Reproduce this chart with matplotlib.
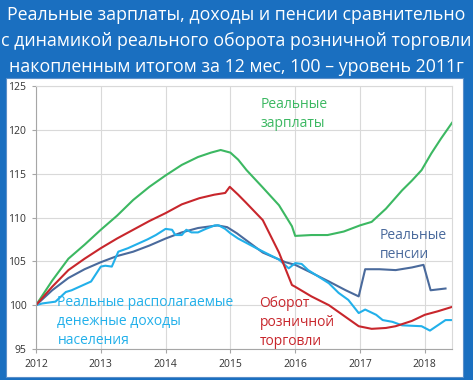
import matplotlib
matplotlib.use("Agg")
import matplotlib.pyplot as plt
from matplotlib.patches import Rectangle

# ---- data (fractional year, index 2011 = 100) ----
wages_x = [2012.0, 2012.25, 2012.5, 2012.75, 2013.0, 2013.25, 2013.5, 2013.75, 2014.0, 2014.25,
           2014.5, 2014.7, 2014.85, 2015.0, 2015.12, 2015.25, 2015.49, 2015.75, 2015.95, 2016.0,
           2016.25, 2016.5, 2016.75, 2017.0, 2017.18, 2017.4, 2017.65, 2017.8, 2017.95, 2018.1,
           2018.25, 2018.42]
wages_y = [100.0, 102.8, 105.3, 106.9, 108.6, 110.2, 112.0, 113.5, 114.8, 116.0,
           116.9, 117.4, 117.7, 117.4, 116.6, 115.4, 113.5, 111.4, 109.0, 107.9,
           108.0, 108.0, 108.4, 109.1, 109.5, 111.0, 113.1, 114.2, 115.4, 117.3,
           119.0, 120.8]

retail_x = [2012.0, 2012.25, 2012.5, 2012.75, 2013.0, 2013.25, 2013.5, 2013.75, 2014.0, 2014.25,
            2014.52, 2014.75, 2014.92, 2014.99, 2015.12, 2015.24, 2015.5, 2015.75, 2015.95, 2016.0,
            2016.25, 2016.52, 2016.75, 2016.98, 2017.18, 2017.4, 2017.55, 2017.8, 2018.0, 2018.2,
            2018.42]
retail_y = [100.0, 102.1, 104.0, 105.3, 106.5, 107.6, 108.6, 109.6, 110.5, 111.5,
            112.2, 112.6, 112.8, 113.5, 112.6, 111.7, 109.7, 106.0, 102.3, 102.1,
            101.0, 100.0, 98.8, 97.6, 97.3, 97.4, 97.6, 98.2, 98.9, 99.3,
            99.8]

pension_x = [2012.0, 2012.25, 2012.5, 2012.75, 2013.0, 2013.25, 2013.5, 2013.75, 2014.0, 2014.25,
             2014.5, 2014.8, 2014.95, 2015.1, 2015.5, 2015.85, 2016.0, 2016.25, 2016.52, 2016.78,
             2016.98, 2017.08, 2017.3, 2017.55, 2017.8, 2017.98, 2018.09, 2018.32]
pension_y = [100.0, 101.7, 103.1, 104.1, 104.9, 105.6, 106.1, 106.8, 107.6, 108.3,
             108.8, 109.1, 108.9, 108.2, 106.0, 104.9, 104.6, 103.7, 102.7, 101.7,
             101.0, 104.1, 104.1, 104.0, 104.3, 104.6, 101.7, 101.9]

income_x = [2012.0, 2012.1, 2012.3, 2012.46, 2012.55, 2012.7, 2012.85, 2013.0, 2013.07, 2013.17,
            2013.27, 2013.42, 2013.57, 2013.72, 2013.85, 2014.0, 2014.1, 2014.15, 2014.25, 2014.32,
            2014.4, 2014.5, 2014.62, 2014.76, 2014.82, 2014.92, 2015.0, 2015.12, 2015.4, 2015.75,
            2015.9, 2016.0, 2016.1, 2016.2, 2016.35, 2016.52, 2016.67, 2016.82, 2016.98, 2017.08,
            2017.25, 2017.35, 2017.5, 2017.65, 2017.95, 2018.08, 2018.2, 2018.32, 2018.42]
income_y = [100.0, 100.2, 100.4, 101.5, 101.7, 102.2, 102.7, 104.4, 104.5, 104.4,
            106.1, 106.5, 107.0, 107.5, 108.0, 108.7, 108.6, 108.0, 108.0, 108.6,
            108.3, 108.3, 108.7, 109.1, 109.1, 108.7, 108.2, 107.6, 106.5, 105.2,
            104.2, 104.8, 104.7, 104.0, 103.3, 102.5, 101.4, 100.6, 99.1, 99.5,
            98.9, 98.3, 98.1, 97.7, 97.6, 97.1, 97.7, 98.3, 98.3]

year_ticks = [2012, 2013, 2014, 2015, 2016, 2017, 2018]
y_ticks = [95, 100, 105, 110, 115, 120, 125]

title_lines = ["Реальные зарплаты, доходы и пенсии сравнительно",
               "с динамикой реального оборота розничной торговли",
               "накопленным итогом за 12 мес, 100 – уровень 2011г"]

C_GREEN = "#3cb862"
C_RED = "#c8262c"
C_DARK = "#4a6a9c"
C_LIGHT = "#22b0ea"
BLUE_BG = "#1a6fc0"

W, H = 473, 380
fig = plt.figure(figsize=(W / 100, H / 100), dpi=100)
fig.patch.set_facecolor(BLUE_BG)

# white panel (behind the axes)
panel = Rectangle((6 / W, 1 - 377 / H), (463 - 6) / W, (377 - 78) / H,
                  transform=fig.transFigure, facecolor="white",
                  edgecolor="#5b8fc9", linewidth=0.8, zorder=-10)
fig.add_artist(panel)

for i, line in enumerate(title_lines):
    fig.text(236 / W, 1 - (15 + 26 * i) / H, line, ha="center", va="center",
             color="white", fontsize=12.8, family="Open Sans")

ax = fig.add_axes([36 / W, 1 - 349 / H, (452 - 36) / W, (349 - 86) / H], zorder=5)
ax.set_facecolor("white")
ax.set_xlim(2012, 2018.42)
ax.set_ylim(95, 125)
ax.set_xticks(year_ticks)
ax.set_yticks(y_ticks)
ax.grid(True, color="#d9d9d9", linewidth=0.8)
ax.set_axisbelow(True)
for s in ["top", "right"]:
    ax.spines[s].set_color("#d9d9d9")
    ax.spines[s].set_linewidth(0.8)
for s in ["left", "bottom"]:
    ax.spines[s].set_color("#a6a6a6")
    ax.spines[s].set_linewidth(0.8)
ax.tick_params(axis="both", labelsize=7.5, colors="#333333", length=3, width=0.8,
               color="#a6a6a6", pad=4)
for lbl in ax.get_xticklabels() + ax.get_yticklabels():
    lbl.set_family("Open Sans")

lw = 1.5
ax.plot(wages_x, wages_y, color=C_GREEN, lw=lw)
ax.plot(pension_x, pension_y, color=C_DARK, lw=lw)
ax.plot(income_x, income_y, color=C_LIGHT, lw=lw)
ax.plot(retail_x, retail_y, color=C_RED, lw=lw)

tf = dict(fontsize=10, family="Open Sans", ha="left", va="top", linespacing=1.4)
ax.text(2015.47, 123.8, "Реальные\nзарплаты", color=C_GREEN, **tf)
ax.text(2017.3, 108.8, "Реальные\nпенсии", color=C_DARK, **tf)
ax.text(2015.45, 101.1, "Оборот\nрозничной\nторговли", color=C_RED, **tf)
ax.text(2012.33, 101.2, "Реальные располагаемые\nденежные доходы\nнаселения", color=C_LIGHT, **tf)

fig.savefig("out.png", dpi=100, facecolor=fig.get_facecolor())
